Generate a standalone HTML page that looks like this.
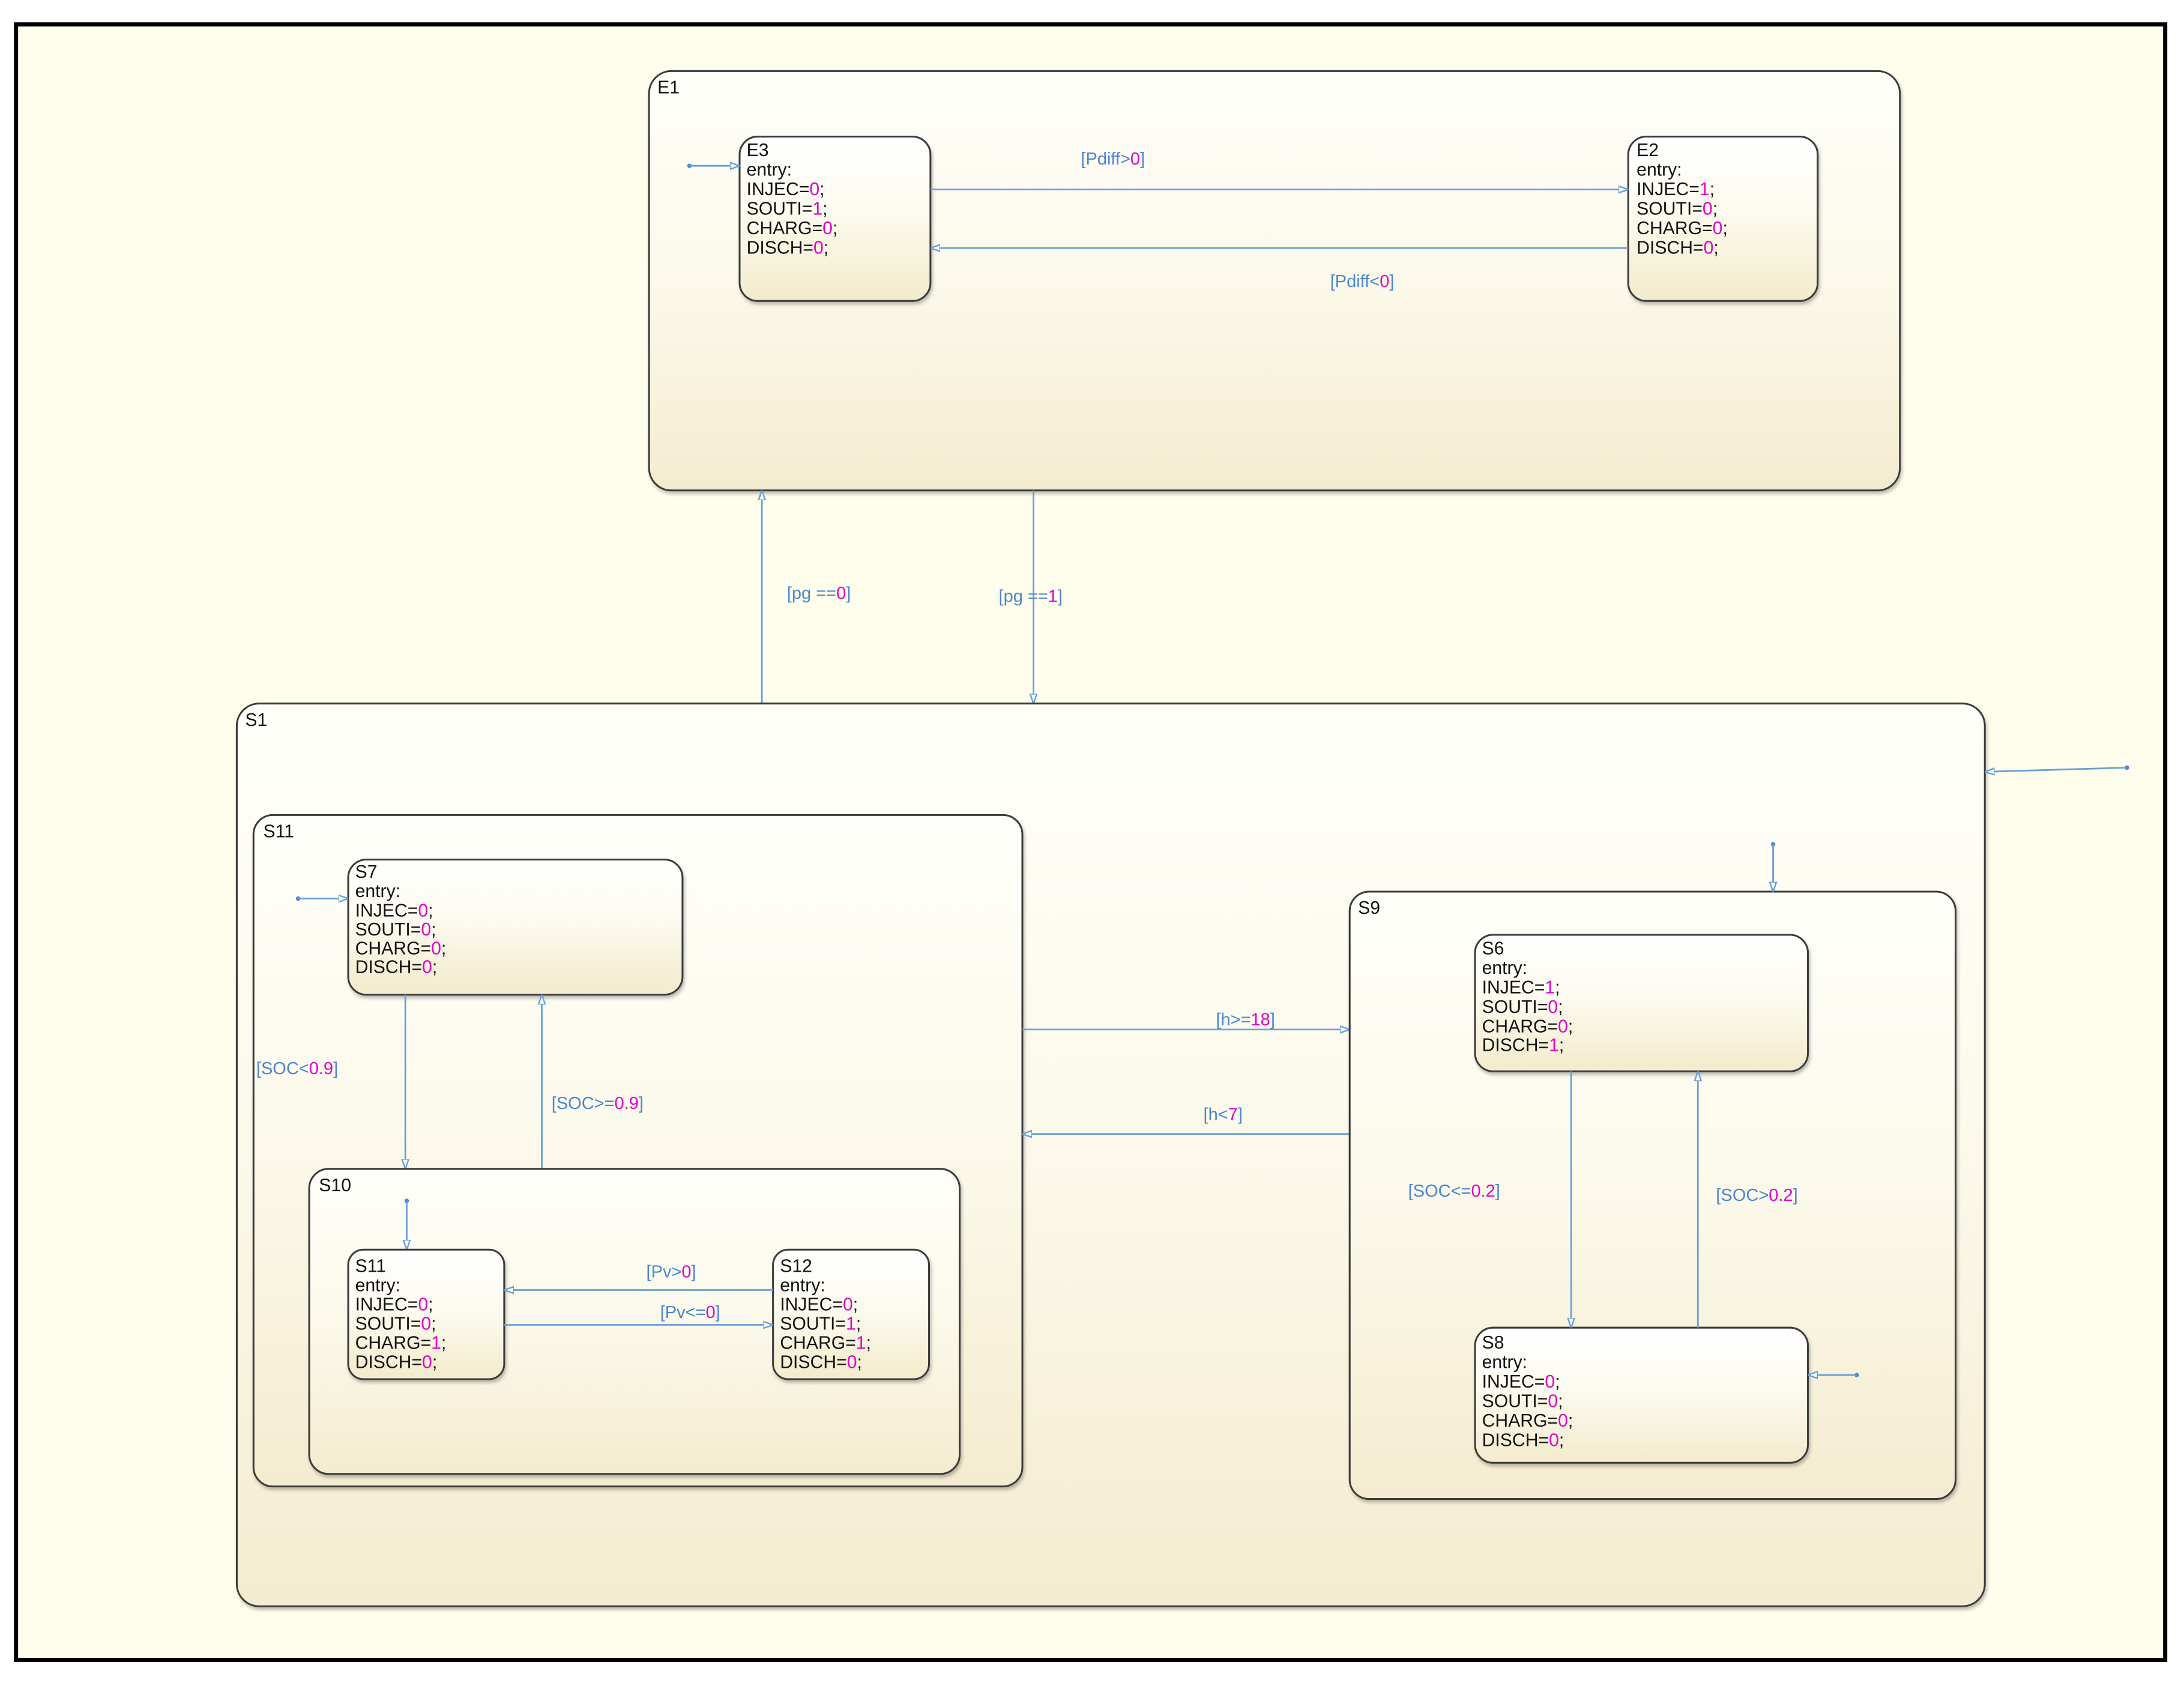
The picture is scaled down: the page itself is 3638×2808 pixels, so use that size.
<!DOCTYPE html>
<html><head><meta charset="utf-8">
<style>
html,body{margin:0;padding:0;background:#fff;}
svg{display:block;}
text{font-family:"Liberation Sans",Arial,sans-serif;}
.st{fill:url(#g);stroke:#3a3a3a;stroke-width:1.3;}
.big{fill:url(#g2);stroke:#3a3a3a;stroke-width:1.3;}
.t{font-size:13px;fill:#111;}
.m{fill:#e000c8;}
.l{font-size:12.5px;fill:#4a86d0;}
.ln{stroke:#6a9fd8;stroke-width:1.2;fill:none;}
</style></head>
<body>
<svg width="3638" height="2808" viewBox="0 0 1568 1210.2" xmlns="http://www.w3.org/2000/svg">
<defs>
<linearGradient id="g" x1="0" y1="0" x2="0" y2="1">
<stop offset="0" stop-color="#ffffff"/><stop offset="0.45" stop-color="#fdfbf0"/><stop offset="1" stop-color="#f3ebcc"/>
</linearGradient>
<linearGradient id="g2" x1="0" y1="0" x2="0" y2="1">
<stop offset="0" stop-color="#fffffa"/><stop offset="0.5" stop-color="#fcf9ea"/><stop offset="1" stop-color="#f4ecd0"/>
</linearGradient>
<marker id="a" viewBox="0 0 10 10" refX="10" refY="5" markerWidth="7" markerHeight="7" orient="auto" markerUnits="userSpaceOnUse">
<path d="M0,1.5 L10,5 L0,8.5 Z" fill="#fff" stroke="#6a9fd8" stroke-width="1.5"/>
</marker>
<filter id="sh" x="-5%" y="-5%" width="110%" height="115%"><feDropShadow dx="1" dy="2" stdDeviation="1.2" flood-color="#000" flood-opacity="0.25"/></filter>
</defs>
<rect x="0" y="0" width="1568" height="1210.2" fill="#fff"/>
<rect x="11.5" y="17.5" width="1543" height="1174" fill="#fffeec" stroke="#000" stroke-width="3"/>

<!-- E1 -->
<rect class="big" x="466" y="51" width="898" height="301" rx="16" filter="url(#sh)"/>
<text class="t" x="472" y="67">E1</text>
<rect class="st" x="531" y="98" width="137" height="118" rx="13" filter="url(#sh)"/>
<text class="t" x="536" y="112"><tspan>E3</tspan><tspan x="536" dy="14">entry:</tspan><tspan x="536" dy="14">INJEC=<tspan class="m">0</tspan>;</tspan><tspan x="536" dy="14">SOUTI=<tspan class="m">1</tspan>;</tspan><tspan x="536" dy="14">CHARG=<tspan class="m">0</tspan>;</tspan><tspan x="536" dy="14">DISCH=<tspan class="m">0</tspan>;</tspan></text>
<rect class="st" x="1169" y="98" width="136" height="118" rx="13" filter="url(#sh)"/>
<text class="t" x="1175" y="112"><tspan>E2</tspan><tspan x="1175" dy="14">entry:</tspan><tspan x="1175" dy="14">INJEC=<tspan class="m">1</tspan>;</tspan><tspan x="1175" dy="14">SOUTI=<tspan class="m">0</tspan>;</tspan><tspan x="1175" dy="14">CHARG=<tspan class="m">0</tspan>;</tspan><tspan x="1175" dy="14">DISCH=<tspan class="m">0</tspan>;</tspan></text>
<circle cx="495" cy="119" r="1.6" fill="#4a86d0"/>
<line class="ln" x1="495" y1="119" x2="531" y2="119" marker-end="url(#a)"/>
<line class="ln" x1="668" y1="136" x2="1169" y2="136" marker-end="url(#a)"/>
<text class="l" x="776" y="118">[Pdiff&gt;<tspan class="m">0</tspan>]</text>
<line class="ln" x1="1169" y1="178" x2="668" y2="178" marker-end="url(#a)"/>
<text class="l" x="955" y="206">[Pdiff&lt;<tspan class="m">0</tspan>]</text>

<!-- pg transitions -->
<line class="ln" x1="547" y1="505" x2="547" y2="352" marker-end="url(#a)"/>
<text class="l" x="565" y="430">[pg ==<tspan class="m">0</tspan>]</text>
<line class="ln" x1="742" y1="352" x2="742" y2="505" marker-end="url(#a)"/>
<text class="l" x="717" y="432">[pg ==<tspan class="m">1</tspan>]</text>

<!-- S1 -->
<rect class="big" x="170" y="505" width="1255" height="648" rx="16" filter="url(#sh)"/>
<text class="t" x="176" y="521">S1</text>
<circle cx="1527" cy="551" r="1.6" fill="#4a86d0"/>
<line class="ln" x1="1527" y1="551" x2="1425" y2="554" marker-end="url(#a)"/>

<!-- S11 -->
<rect class="big" x="182" y="585" width="552" height="482" rx="14" filter="url(#sh)"/>
<text class="t" x="189" y="601">S11</text>
<rect class="st" x="250" y="617" width="240" height="97" rx="13" filter="url(#sh)"/>
<text class="t" x="255" y="630"><tspan>S7</tspan><tspan x="255" dy="14">entry:</tspan><tspan x="255" dy="14">INJEC=<tspan class="m">0</tspan>;</tspan><tspan x="255" dy="13.5">SOUTI=<tspan class="m">0</tspan>;</tspan><tspan x="255" dy="13.5">CHARG=<tspan class="m">0</tspan>;</tspan><tspan x="255" dy="13.5">DISCH=<tspan class="m">0</tspan>;</tspan></text>
<circle cx="214" cy="645" r="1.6" fill="#4a86d0"/>
<line class="ln" x1="214" y1="645" x2="250" y2="645" marker-end="url(#a)"/>
<line class="ln" x1="291" y1="714" x2="291" y2="839" marker-end="url(#a)"/>
<text class="l" x="184" y="771">[SOC&lt;<tspan class="m">0.9</tspan>]</text>
<line class="ln" x1="389" y1="839" x2="389" y2="714" marker-end="url(#a)"/>
<text class="l" x="396" y="796">[SOC&gt;=<tspan class="m">0.9</tspan>]</text>

<!-- S10 -->
<rect class="big" x="222" y="839" width="467" height="219" rx="14" filter="url(#sh)"/>
<text class="t" x="229" y="855">S10</text>
<circle cx="292" cy="862" r="1.6" fill="#4a86d0"/>
<line class="ln" x1="292" y1="862" x2="292" y2="897" marker-end="url(#a)"/>
<rect class="st" x="250" y="897" width="112" height="93" rx="11" filter="url(#sh)"/>
<text class="t" x="255" y="913"><tspan>S11</tspan><tspan x="255" dy="13.8">entry:</tspan><tspan x="255" dy="13.8">INJEC=<tspan class="m">0</tspan>;</tspan><tspan x="255" dy="13.8">SOUTI=<tspan class="m">0</tspan>;</tspan><tspan x="255" dy="13.8">CHARG=<tspan class="m">1</tspan>;</tspan><tspan x="255" dy="13.8">DISCH=<tspan class="m">0</tspan>;</tspan></text>
<rect class="st" x="555" y="897" width="112" height="93" rx="11" filter="url(#sh)"/>
<text class="t" x="560" y="913"><tspan>S12</tspan><tspan x="560" dy="13.8">entry:</tspan><tspan x="560" dy="13.8">INJEC=<tspan class="m">0</tspan>;</tspan><tspan x="560" dy="13.8">SOUTI=<tspan class="m">1</tspan>;</tspan><tspan x="560" dy="13.8">CHARG=<tspan class="m">1</tspan>;</tspan><tspan x="560" dy="13.8">DISCH=<tspan class="m">0</tspan>;</tspan></text>
<line class="ln" x1="555" y1="926" x2="362" y2="926" marker-end="url(#a)"/>
<text class="l" x="464" y="917">[Pv&gt;<tspan class="m">0</tspan>]</text>
<line class="ln" x1="362" y1="951" x2="555" y2="951" marker-end="url(#a)"/>
<text class="l" x="474" y="946">[Pv&lt;=<tspan class="m">0</tspan>]</text>

<!-- S11 <-> S9 -->
<line class="ln" x1="734" y1="739" x2="969" y2="739" stroke-width="1.8" marker-end="url(#a)"/>
<text class="l" x="873" y="736">[h&gt;=<tspan class="m">18</tspan>]</text>
<line class="ln" x1="969" y1="814" x2="734" y2="814" stroke-width="1.8" marker-end="url(#a)"/>
<text class="l" x="864" y="804">[h&lt;<tspan class="m">7</tspan>]</text>

<!-- S9 -->
<rect class="big" x="969" y="640" width="435" height="436" rx="14" filter="url(#sh)"/>
<text class="t" x="975" y="656">S9</text>
<circle cx="1273" cy="606" r="1.6" fill="#4a86d0"/>
<line class="ln" x1="1273" y1="606" x2="1273" y2="640" marker-end="url(#a)"/>
<rect class="st" x="1059" y="671" width="239" height="98" rx="13" filter="url(#sh)"/>
<text class="t" x="1064" y="685"><tspan>S6</tspan><tspan x="1064" dy="14">entry:</tspan><tspan x="1064" dy="14">INJEC=<tspan class="m">1</tspan>;</tspan><tspan x="1064" dy="14">SOUTI=<tspan class="m">0</tspan>;</tspan><tspan x="1064" dy="14">CHARG=<tspan class="m">0</tspan>;</tspan><tspan x="1064" dy="13.5">DISCH=<tspan class="m">1</tspan>;</tspan></text>
<rect class="st" x="1059" y="953" width="239" height="97" rx="13" filter="url(#sh)"/>
<text class="t" x="1064" y="968"><tspan>S8</tspan><tspan x="1064" dy="14">entry:</tspan><tspan x="1064" dy="14">INJEC=<tspan class="m">0</tspan>;</tspan><tspan x="1064" dy="14">SOUTI=<tspan class="m">0</tspan>;</tspan><tspan x="1064" dy="14">CHARG=<tspan class="m">0</tspan>;</tspan><tspan x="1064" dy="14">DISCH=<tspan class="m">0</tspan>;</tspan></text>
<circle cx="1333" cy="987" r="1.6" fill="#4a86d0"/>
<line class="ln" x1="1333" y1="987" x2="1298" y2="987" marker-end="url(#a)"/>
<line class="ln" x1="1128" y1="769" x2="1128" y2="953" marker-end="url(#a)"/>
<text class="l" x="1011" y="859">[SOC&lt;=<tspan class="m">0.2</tspan>]</text>
<line class="ln" x1="1219" y1="953" x2="1219" y2="769" marker-end="url(#a)"/>
<text class="l" x="1232" y="862">[SOC&gt;<tspan class="m">0.2</tspan>]</text>
</svg>
</body></html>
